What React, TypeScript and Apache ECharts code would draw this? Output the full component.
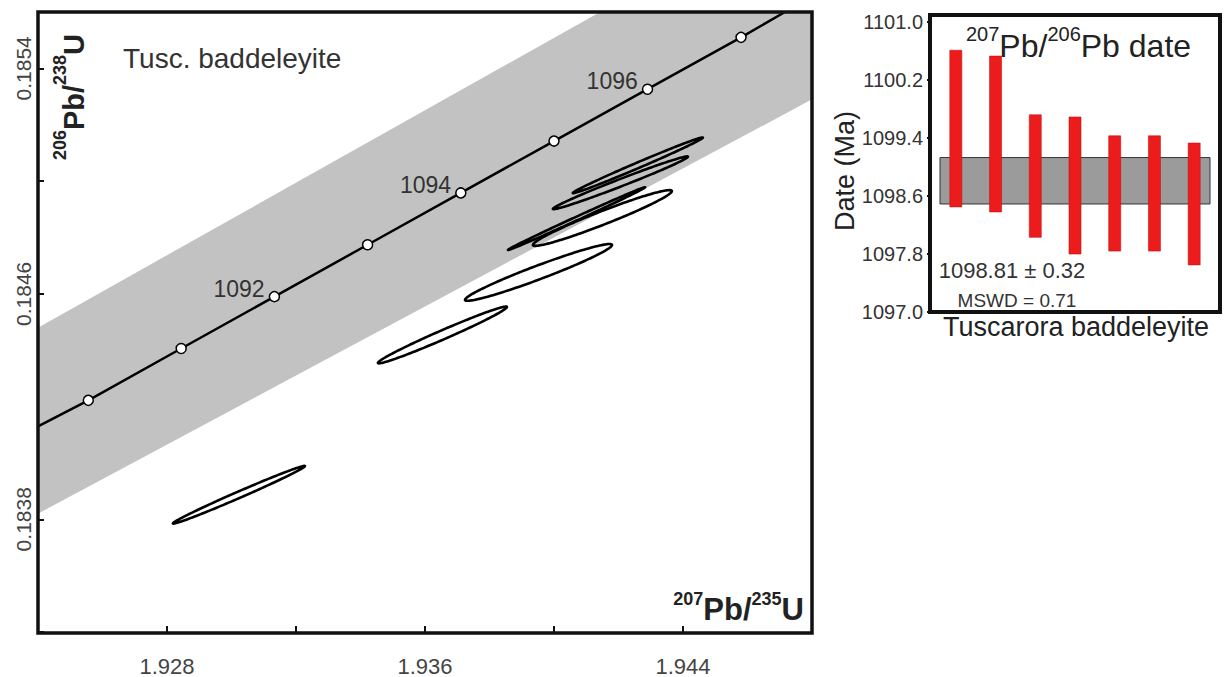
import React, { useEffect, useRef } from 'react';
import * as echarts from 'echarts';

const FONT = '"Liberation Sans", Arial, Helvetica, sans-serif';

// ---- Concordia diagram -------------------------------------------------
// Age markers (Ma) on the concordia and their ratio coordinates
const CONCORDIA_AGES = [1090, 1091, 1092, 1093, 1094, 1095, 1096, 1097];
const CONCORDIA_X = [1.92556, 1.92844, 1.93133, 1.93422, 1.93711, 1.94, 1.9429, 1.9458];
const CONCORDIA_Y = [0.184222, 0.184406, 0.18459, 0.184774, 0.184958, 0.185142, 0.185326, 0.18551];
const LABELLED_AGES = [1092, 1094, 1096];
// where the concordia leaves the plotting frame
const CONCORDIA_START = [1.924, 0.18413];
const CONCORDIA_END = [1.94716, 0.1856];

// decay-constant uncertainty envelope (upper and lower edges)
const ENVELOPE_UPPER = [
  [1.924, 0.18448],
  [1.94143, 0.1856],
];
const ENVELOPE_LOWER = [
  [1.924, 0.18382],
  [1.948, 0.18529],
];

// error ellipses: centre, half-extent in x and y, error correlation
const ELLIPSE_X = [1.93023, 1.93654, 1.93952, 1.9407, 1.9415, 1.94206, 1.9426];
const ELLIPSE_Y = [0.183887, 0.184454, 0.184676, 0.184867, 0.184869, 0.184994, 0.185056];
const ELLIPSE_SX = [0.002047, 0.002, 0.002279, 0.002124, 0.002155, 0.002093, 0.002016];
const ELLIPSE_SY = [0.0001024, 0.0001007, 0.0001007, 0.0001113, 0.0000989, 0.0000936, 0.0000989];
const ELLIPSE_RHO = [0.9927, 0.9845, 0.966, 0.998, 0.966, 0.989, 0.994];

// axis extents and labelled ticks
const X_MIN = 1.924;
const X_MAX = 1.948;
const X_STEP = 0.004;
const X_TICK_LABELS = ['1.928', '1.936', '1.944'];
const Y_MIN = 0.1834;
const Y_MAX = 0.1856;
const Y_STEP = 0.0004;
const Y_TICK_LABELS = ['0.1838', '0.1846', '0.1854'];

// ---- 207Pb/206Pb date panel ---------------------------------------------
const DATE_INDEX = [1, 2, 3, 4, 5, 6, 7];
const DATE_LOW = [1098.45, 1098.38, 1098.03, 1097.8, 1097.84, 1097.84, 1097.65];
const DATE_HIGH = [1100.61, 1100.53, 1099.72, 1099.69, 1099.43, 1099.43, 1099.33];
const WEIGHTED_MEAN = 1098.81;
const WEIGHTED_ERR = 0.32;
const MSWD = 0.71;
const DATE_MIN = 1097.0;
const DATE_MAX = 1101.0;
const DATE_STEP = 0.8;

const LEFT_GRID = { left: 38, top: 12, width: 774, height: 621 };
const RIGHT_GRID = { left: 930, top: 22, width: 290, height: 290 };

function buildOption(): any {
  const concordiaLine = [
    CONCORDIA_START,
    ...CONCORDIA_X.map((x, i) => [x, CONCORDIA_Y[i]]),
    CONCORDIA_END,
  ];
  const markers = CONCORDIA_AGES.map((age, i) => ({
    value: [CONCORDIA_X[i], CONCORDIA_Y[i]],
    label: { show: LABELLED_AGES.includes(age), formatter: String(age) },
  }));
  const ellipses = ELLIPSE_X.map((x, i) => [x, ELLIPSE_Y[i], ELLIPSE_SX[i], ELLIPSE_SY[i], ELLIPSE_RHO[i]]);
  const envelope = [
    ...ENVELOPE_UPPER,
    [X_MAX, Y_MAX],
    ...ENVELOPE_LOWER.slice().reverse(),
  ];
  const dates = DATE_INDEX.map((k, i) => [k, DATE_LOW[i], DATE_HIGH[i]]);

  const supStyle = (size: number, weight: string) => ({
    fontSize: size,
    fontFamily: FONT,
    fontWeight: weight,
    fill: '#222',
    lineHeight: size,
    verticalAlign: 'top',
  });
  const bigStyle = (size: number, weight: string, lh: number) => ({
    fontSize: size,
    fontFamily: FONT,
    fontWeight: weight,
    fill: '#222',
    lineHeight: lh,
    verticalAlign: 'middle',
  });

  return {
    animation: false,
    backgroundColor: '#fff',
    grid: [
      { ...LEFT_GRID, containLabel: false },
      { ...RIGHT_GRID, containLabel: false },
    ],
    xAxis: [
      {
        type: 'value',
        gridIndex: 0,
        min: X_MIN,
        max: X_MAX,
        interval: X_STEP,
        axisLine: { show: false },
        splitLine: { show: false },
        axisTick: { show: true, inside: true, length: 6, lineStyle: { color: '#111', width: 2 } },
        axisLabel: {
          margin: 23,
          fontSize: 22,
          fontFamily: FONT,
          color: '#444',
          formatter: (v: number) => {
            const s = v.toFixed(3);
            return X_TICK_LABELS.includes(s) ? s : '';
          },
        },
      },
      {
        type: 'value',
        gridIndex: 1,
        min: 0.35,
        max: 7.65,
        show: false,
      },
    ],
    yAxis: [
      {
        type: 'value',
        gridIndex: 0,
        min: Y_MIN,
        max: Y_MAX,
        interval: Y_STEP,
        axisLine: { show: false },
        splitLine: { show: false },
        axisTick: { show: true, inside: true, length: 6, lineStyle: { color: '#111', width: 2 } },
        axisLabel: {
          rotate: 90,
          margin: 4,
          fontSize: 21,
          fontFamily: FONT,
          color: '#444',
          formatter: (v: number) => {
            const s = v.toFixed(4);
            return Y_TICK_LABELS.includes(s) ? s : '';
          },
        },
      },
      {
        type: 'value',
        gridIndex: 1,
        min: DATE_MIN,
        max: DATE_MAX,
        interval: DATE_STEP,
        axisLine: { show: false },
        splitLine: { show: false },
        axisTick: { show: true, inside: false, length: 3, lineStyle: { color: '#111', width: 2 } },
        axisLabel: {
          margin: 7,
          fontSize: 20,
          fontFamily: FONT,
          color: '#333',
          formatter: (v: number) => v.toFixed(1),
        },
      },
    ],
    series: [
      {
        name: 'envelope',
        type: 'custom',
        xAxisIndex: 0,
        yAxisIndex: 0,
        z: 1,
        silent: true,
        data: [envelope[0]],
        encode: { x: 0, y: 1 },
        renderItem: (_params: any, api: any) => ({
          type: 'polygon',
          shape: { points: envelope.map((p) => api.coord(p)) },
          style: { fill: '#c2c2c2', stroke: 'none' },
        }),
      },
      {
        name: 'concordia',
        type: 'line',
        xAxisIndex: 0,
        yAxisIndex: 0,
        z: 2,
        silent: true,
        showSymbol: false,
        data: concordiaLine,
        lineStyle: { color: '#000', width: 2.5 },
      },
      {
        name: 'ellipses',
        type: 'custom',
        xAxisIndex: 0,
        yAxisIndex: 0,
        z: 3,
        silent: true,
        data: ellipses,
        encode: { x: 0, y: 1 },
        renderItem: (_params: any, api: any) => {
          const cx = api.value(0);
          const cy = api.value(1);
          const sx = api.value(2);
          const sy = api.value(3);
          const r = api.value(4);
          const q = Math.sqrt(1 - r * r);
          const pts: number[][] = [];
          const n = 160;
          for (let k = 0; k < n; k++) {
            const t = (k / n) * Math.PI * 2;
            pts.push(api.coord([cx + sx * Math.cos(t), cy + sy * (r * Math.cos(t) + q * Math.sin(t))]));
          }
          return {
            type: 'polygon',
            shape: { points: pts },
            style: { fill: 'none', stroke: '#000', lineWidth: 2.6 },
          };
        },
      },
      {
        name: 'age markers',
        type: 'scatter',
        xAxisIndex: 0,
        yAxisIndex: 0,
        z: 4,
        silent: true,
        symbol: 'circle',
        symbolSize: 10,
        itemStyle: { color: '#fff', borderColor: '#000', borderWidth: 1.5, opacity: 1 },
        label: {
          position: 'left',
          distance: 4,
          offset: [0, -8],
          fontSize: 23,
          fontFamily: FONT,
          color: '#333',
        },
        data: markers,
      },
      {
        name: 'weighted mean',
        type: 'custom',
        xAxisIndex: 1,
        yAxisIndex: 1,
        z: 2,
        silent: true,
        data: [[1, WEIGHTED_MEAN, WEIGHTED_ERR]],
        encode: { x: 0, y: 1 },
        renderItem: (params: any, api: any) => {
          const cs = params.coordSys;
          const m = api.value(1);
          const e = api.value(2);
          const top = api.coord([1, m + e])[1];
          const bot = api.coord([1, m - e])[1];
          return {
            type: 'rect',
            shape: { x: cs.x + 10, y: top, width: cs.width - 20, height: bot - top },
            style: { fill: '#9b9b9b', stroke: '#333', lineWidth: 1 },
          };
        },
      },
      {
        name: 'dates',
        type: 'custom',
        xAxisIndex: 1,
        yAxisIndex: 1,
        z: 3,
        silent: true,
        data: dates,
        encode: { x: 0, y: [1, 2] },
        renderItem: (_params: any, api: any) => {
          const k = api.value(0);
          const hi = api.coord([k, api.value(2)]);
          const lo = api.coord([k, api.value(1)]);
          return {
            type: 'rect',
            shape: { x: hi[0] - 6, y: hi[1], width: 12, height: lo[1] - hi[1] },
            style: { fill: '#ec1c1c', stroke: '#c81010', lineWidth: 0.6 },
          };
        },
      },
    ],
    graphic: [
      // plotting frames
      {
        type: 'rect',
        silent: true,
        z: 100,
        shape: { x: LEFT_GRID.left, y: LEFT_GRID.top, width: LEFT_GRID.width, height: LEFT_GRID.height },
        style: { fill: 'none', stroke: '#111', lineWidth: 3.5 },
      },
      {
        type: 'rect',
        silent: true,
        z: 100,
        shape: { x: RIGHT_GRID.left, y: 15, width: RIGHT_GRID.width, height: RIGHT_GRID.top + RIGHT_GRID.height - 15 },
        style: { fill: 'none', stroke: '#111', lineWidth: 4 },
      },
      // concordia panel texts
      {
        type: 'text',
        silent: true,
        z: 100,
        x: 123,
        y: 58,
        style: {
          text: 'Tusc. baddeleyite',
          fontSize: 28,
          fontFamily: FONT,
          fill: '#333',
          align: 'left',
          verticalAlign: 'middle',
        },
      },
      {
        type: 'text',
        silent: true,
        z: 100,
        x: 74,
        y: 97,
        rotation: Math.PI / 2,
        style: {
          text: '{s|206}{b|Pb/}{s|238}{b|U}',
          align: 'center',
          verticalAlign: 'middle',
          fill: '#222',
          rich: { s: supStyle(18, 'bold'), b: bigStyle(29, 'bold', 46) },
        },
      },
      {
        type: 'text',
        silent: true,
        z: 100,
        x: 804,
        y: 609,
        style: {
          text: '{s|207}{b|Pb/}{s|235}{b|U}',
          align: 'right',
          verticalAlign: 'middle',
          fill: '#222',
          rich: { s: supStyle(18, 'bold'), b: bigStyle(31, 'bold', 38) },
        },
      },
      // date panel texts
      {
        type: 'text',
        silent: true,
        z: 100,
        x: 966,
        y: 46,
        style: {
          text: '{s|207}{b|Pb/}{s|206}{b|Pb date}',
          align: 'left',
          verticalAlign: 'middle',
          fill: '#222',
          rich: { s: supStyle(20, 'normal'), b: bigStyle(32, 'normal', 44) },
        },
      },
      {
        type: 'text',
        silent: true,
        z: 100,
        x: 1012,
        y: 270,
        style: {
          text: `${WEIGHTED_MEAN.toFixed(2)} \u00b1 ${WEIGHTED_ERR.toFixed(2)}`,
          fontSize: 22,
          fontFamily: FONT,
          fill: '#333',
          align: 'center',
          verticalAlign: 'middle',
        },
      },
      {
        type: 'text',
        silent: true,
        z: 100,
        x: 1017,
        y: 300,
        style: {
          text: `MSWD = ${MSWD.toFixed(2)}`,
          fontSize: 19,
          fontFamily: FONT,
          fill: '#333',
          align: 'center',
          verticalAlign: 'middle',
        },
      },
      {
        type: 'text',
        silent: true,
        z: 100,
        x: 845,
        y: 171,
        rotation: Math.PI / 2,
        style: {
          text: 'Date (Ma)',
          fontSize: 27,
          fontFamily: FONT,
          fill: '#222',
          align: 'center',
          verticalAlign: 'middle',
        },
      },
      {
        type: 'text',
        silent: true,
        z: 100,
        x: 1076,
        y: 327,
        style: {
          text: 'Tuscarora baddeleyite',
          fontSize: 27,
          fontFamily: FONT,
          fill: '#222',
          align: 'center',
          verticalAlign: 'middle',
        },
      },
    ],
  };
}

export default function App() {
  const ref = useRef<HTMLDivElement>(null);
  useEffect(() => {
    if (!ref.current) return;
    const chart = echarts.init(ref.current, null, { renderer: 'svg' });
    chart.setOption(buildOption());
    return () => chart.dispose();
  }, []);
  return (
    <div
      ref={ref}
      style={{ position: 'fixed', left: 0, top: 0, width: 1228, height: 677, background: '#fff' }}
    />
  );
}
